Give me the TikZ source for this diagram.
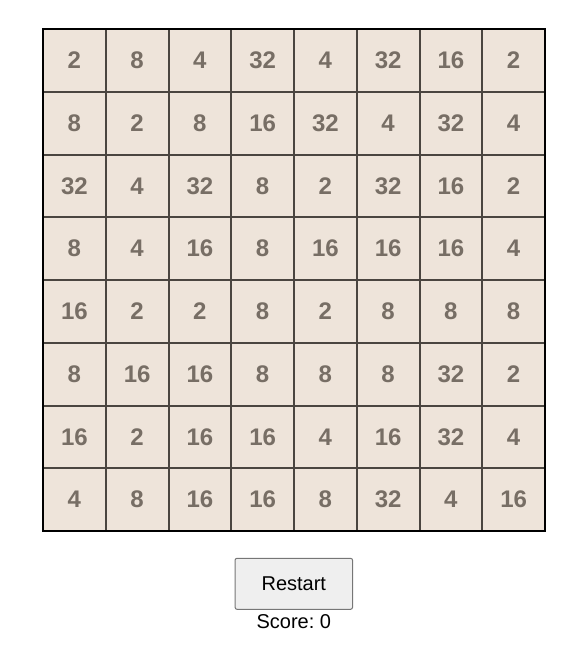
\documentclass[tikz,border=0pt]{standalone}
\usepackage{xcolor}
\usepackage{fontspec}
\setmainfont{Liberation Sans}
\usetikzlibrary{positioning}
\definecolor{tilebg}{HTML}{EEE4DA}
\definecolor{tileline}{HTML}{4A4540}
\definecolor{tiletext}{HTML}{776E65}
\definecolor{btnfill}{HTML}{EFEFEF}
\definecolor{btnline}{HTML}{767676}
\frenchspacing

\begin{document}
\begin{tikzpicture}[x=1pt,y=1pt]
\tikzset{tile/.style={rectangle,draw=tileline,fill=tilebg,line width=2pt,
		outer sep=0pt,inner sep=0pt,minimum size=62.75pt,text=tiletext,
		font=\fontsize{24}{24}\selectfont\bfseries},
	button/.style={rectangle,rounded corners=2pt,draw=btnline,fill=btnfill,
		line width=1pt,minimum width=117.5pt,minimum height=51pt,
		font=\fontsize{20}{24}\selectfont}}

\useasboundingbox (0,0) rectangle (580,-666);

\foreach \row [count=\i] in {{2,8,4,32,4,32,16,2},{8,2,8,16,32,4,32,4},
		{32,4,32,8,2,32,16,2},{8,4,16,8,16,16,16,4},{16,2,2,8,2,8,8,8},
		{8,16,16,8,8,8,32,2},{16,2,16,16,4,16,32,4},{4,8,16,16,8,32,4,16}}
	\foreach \v [count=\j] in \row
		\node[tile] (c-\i-\j) at ({43+62.75*(\j-0.5)},{-29-62.75*(\i-0.5)}) {\v};

\draw[line width=2.5pt] (c-1-1.north west) rectangle (c-8-8.south east);

\node[button] (restart) at (293.8,-583.8) {Restart};

\node[inner sep=0pt,font=\fontsize{20}{24}\selectfont] (score) [below=4.5pt of restart] {Score: 0};
\end{tikzpicture}
\end{document}
